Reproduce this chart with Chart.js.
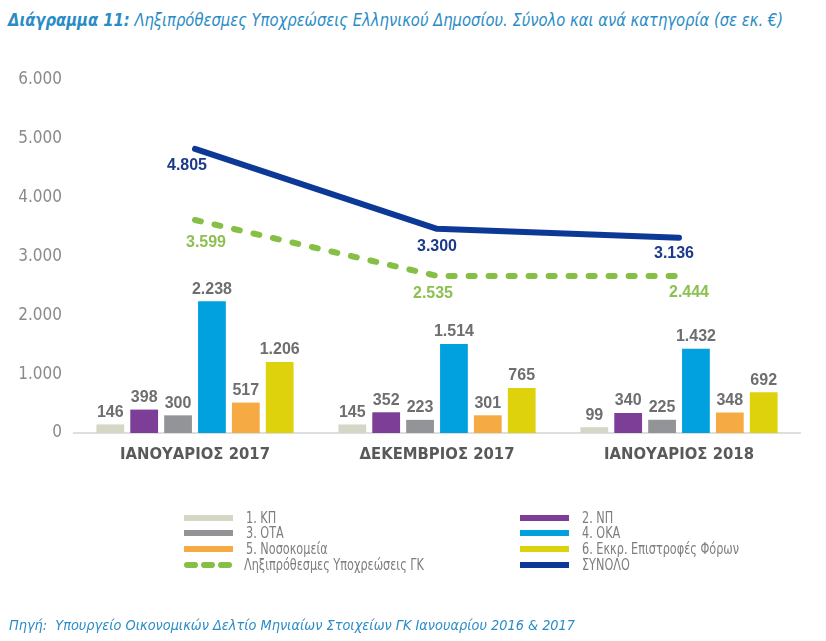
<!DOCTYPE html>
<html>
<head>
<meta charset="utf-8">
<script src="https://cdn.jsdelivr.net/npm/chart.js@4.4.1/dist/chart.umd.min.js"></script>
<style>
  html, body { margin: 0; padding: 0; background: #fff; }
  body { width: 826px; height: 641px; position: relative; overflow: hidden; font-family: "DejaVu Sans Condensed", "DejaVu Sans", sans-serif; }
  .fit { position: absolute; white-space: nowrap; display: inline-block; transform-origin: 0 50%; }
  #title { left: 8px; top: 10px; font-size: 17px; font-style: italic; color: #2a8cc6; }
  #title b { font-weight: bold; }
  #wrap { position: absolute; left: 0; top: 0; width: 826px; height: 480px; }
  #legend { position: absolute; left: 0; top: 0; width: 826px; height: 641px; pointer-events: none; }
  .li { position: absolute; height: 16px; width: 300px; }
  .sw { position: absolute; top: 5px; left: 0; width: 49px; height: 6px; }
  .dots { position: absolute; top: 5px; left: 0; width: 49px; height: 6px; }
  .dots span { position: absolute; top: 0; width: 14px; height: 6px; border-radius: 3px; background: #86bf45; }
  .lt { position: absolute; top: 0; font-size: 15px; color: #7d7d7d; white-space: nowrap; line-height: 16px; transform-origin: 0 50%; }
  #source { left: 9px; top: 617px; font-size: 14.5px; font-style: italic; color: #2a8cc6; }
</style>
</head>
<body>
<div id="title" class="fit"><b>Διάγραμμα 11:</b> Ληξιπρόθεσμες Υποχρεώσεις Ελληνικού Δημοσίου. Σύνολο και ανά κατηγορία (σε εκ. €)</div>
<div id="wrap"><canvas id="c" width="826" height="480"></canvas></div>
<div id="legend"></div>
<div id="source" class="fit">Πηγή:&nbsp; Υπουργείο Οικονομικών Δελτίο Μηνιαίων Στοιχείων ΓΚ Ιανουαρίου 2016 &amp; 2017</div>
<script>
// ---- data ----
const categories = ["ΙΑΝΟΥΑΡΙΟΣ 2017", "ΔΕΚΕΜΒΡΙΟΣ 2017", "ΙΑΝΟΥΑΡΙΟΣ 2018"];
const seriesNames = ["1. ΚΠ", "2. ΝΠ", "3. ΟΤΑ", "4. ΟΚΑ", "5. Νοσοκομεία", "6. Εκκρ. Επιστροφές Φόρων"];
const kp = [146, 145, 99];
const np = [398, 352, 340];
const ota = [300, 223, 225];
const oka = [2238, 1514, 1432];
const nosokomeia = [517, 301, 348];
const epistrofes = [1206, 765, 692];
const overdueName = "Ληξιπρόθεσμες Υποχρεώσεις ΓΚ";
const overdueLabels = [3599, 2535, 2444];      // printed values
const overduePlotted = [3620, 2670, 2670];     // positions as drawn in the picture
const totalName = "ΣΥΝΟΛΟ";
const totalLabels = [4805, 3300, 3136];        // printed values
const totalPlotted = [4830, 3470, 3320];       // positions as drawn in the picture
const yTicks = [0, 1000, 2000, 3000, 4000, 5000, 6000];

// ---- styles ----
const barColors = ["#d6d6c6", "#7c3e96", "#939497", "#00a1de", "#f6aa43", "#ddd20c"];
const greenColor = "#86bf45";
const blueColor = "#0d3996";
const fmt = v => String(v).replace(/\B(?=(\d{3})+(?!\d))/g, ".");

const barSeries = [kp, np, ota, oka, nosokomeia, epistrofes];
const datasets = barSeries.map((d, i) => ({
  type: 'bar',
  label: seriesNames[i],
  data: d,
  backgroundColor: barColors[i],
  categoryPercentage: 0.84,
  barPercentage: 0.82,
  order: 3
}));
datasets.push({
  type: 'line',
  label: overdueName,
  data: overduePlotted,
  printed: overdueLabels,
  borderColor: greenColor,
  borderWidth: 6,
  borderDash: [6, 14],
  borderCapStyle: 'round',
  pointRadius: 0,
  fill: false,
  tension: 0,
  order: 2,
  lblColor: "#8cc152",
  lblOffsets: [[11, 23], [-4, 18], [10, 17]]
});
datasets.push({
  type: 'line',
  label: totalName,
  data: totalPlotted,
  printed: totalLabels,
  borderColor: blueColor,
  borderWidth: 6,
  borderCapStyle: 'round',
  borderJoinStyle: 'round',
  pointRadius: 0,
  fill: false,
  tension: 0,
  order: 1,
  lblColor: "#1b3a8c",
  lblOffsets: [[-8, 17], [0, 18], [-5, 16]]
});

const valueLabels = {
  id: 'valueLabels',
  afterDatasetsDraw(chart) {
    const ctx = chart.ctx;
    ctx.save();
    ctx.font = 'bold 16px "Liberation Sans", "DejaVu Sans", sans-serif';
    ctx.textAlign = 'center';
    chart.data.datasets.forEach((ds, di) => {
      const meta = chart.getDatasetMeta(di);
      meta.data.forEach((el, i) => {
        if (ds.type === 'bar') {
          ctx.fillStyle = '#6d6e70';
          ctx.textBaseline = 'bottom';
          ctx.fillText(fmt(ds.data[i]), el.x, el.y - 4);
        } else {
          const off = ds.lblOffsets[i];
          ctx.fillStyle = ds.lblColor;
          ctx.textBaseline = 'middle';
          ctx.fillText(fmt(ds.printed[i]), el.x + off[0], el.y + off[1]);
        }
      });
    });
    ctx.restore();
  }
};

new Chart(document.getElementById('c'), {
  data: { labels: categories, datasets },
  options: {
    responsive: false,
    animation: false,
    devicePixelRatio: 1,
    layout: { padding: { top: 80, right: 26, left: 0, bottom: 0 } },
    plugins: { legend: { display: false }, tooltip: { enabled: false } },
    scales: {
      x: {
        grid: { display: false, drawTicks: false },
        border: { display: true, color: '#dedede', width: 2 },
        ticks: {
          color: '#58595b',
          padding: 12,
          font: { family: '"DejaVu Sans Condensed", "DejaVu Sans", sans-serif', size: 16.5, weight: 'bold' }
        },
        afterFit: s => { s.height = 47; }
      },
      y: {
        min: 0, max: 6000,
        afterBuildTicks: s => { s.ticks = yTicks.map(v => ({ value: v })); },
        grid: { display: false, drawTicks: false },
        border: { display: false },
        ticks: {
          color: '#8a8a8a',
          padding: 12,
          font: { family: '"DejaVu Sans Condensed", "DejaVu Sans", sans-serif', size: 17 },
          callback: v => fmt(v)
        },
        afterFit: s => { s.width = 74; }
      }
    }
  },
  plugins: [valueLabels]
});

// ---- legend (HTML) ----
const legendItems = [
  { name: seriesNames[0], color: barColors[0], x: 184, y: 510 },
  { name: seriesNames[2], color: barColors[2], x: 184, y: 525 },
  { name: seriesNames[4], color: barColors[4], x: 184, y: 541 },
  { name: overdueName, dashed: true, x: 184, y: 557 },
  { name: seriesNames[1], color: barColors[1], x: 520, y: 510 },
  { name: seriesNames[3], color: barColors[3], x: 520, y: 525 },
  { name: seriesNames[5], color: barColors[5], x: 520, y: 541 },
  { name: totalName, color: blueColor, x: 520, y: 557 }
];
const lg = document.getElementById('legend');
const legendTexts = [];
legendItems.forEach(it => {
  const d = document.createElement('div');
  d.className = 'li';
  d.style.left = it.x + 'px';
  d.style.top = it.y + 'px';
  let sw;
  if (it.dashed) {
    sw = '<div class="dots"><span style="left:0"></span><span style="left:17px"></span><span style="left:34px"></span></div>';
  } else {
    sw = '<div class="sw" style="background:' + it.color + '"></div>';
  }
  d.innerHTML = sw + '<span class="lt" style="left:' + (it.dashed ? 60 : 62) + 'px">' + it.name + '</span>';
  lg.appendChild(d);
  legendTexts.push({ el: d.querySelector('.lt'), name: it.name });
});

// fit text widths to the reference's horizontal extents
function fitWidth(el, target) {
  const w = el.getBoundingClientRect().width;
  if (w > 0) el.style.transform = 'scaleX(' + (target / w) + ')';
}
fitWidth(document.getElementById('title'), 775);
fitWidth(document.getElementById('source'), 566);
const longest = legendTexts.find(t => t.name === overdueName).el;
const k = 180 / longest.getBoundingClientRect().width;
legendTexts.forEach(t => { t.el.style.transform = 'scaleX(' + k + ')'; });
</script>
</body>
</html>
